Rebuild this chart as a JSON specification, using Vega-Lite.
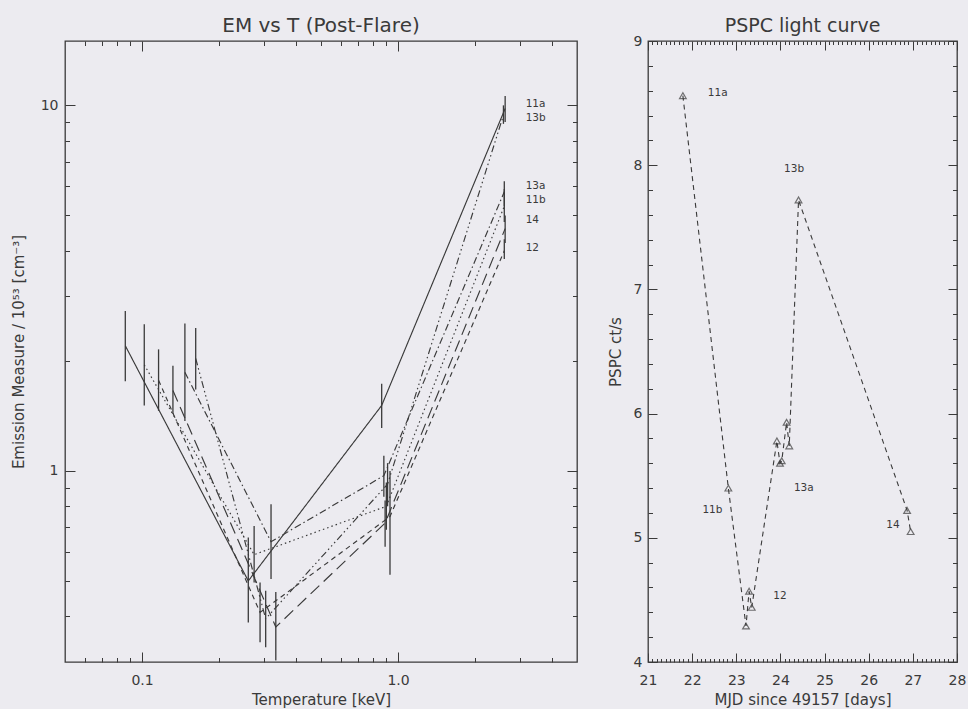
{
  "$schema": "https://vega.github.io/schema/vega-lite/v6.json",
  "background": "#ecebf0",
  "padding": {"left": 10, "top": 14, "right": 2, "bottom": 0},
  "config": {
    "view": {"stroke": "#3a3a3a", "strokeWidth": 1.3},
    "font": "DejaVu Sans",
    "axis": {"domain": false, "grid": false, "tickColor": "#3a3a3a", "labelColor": "#3a3a3a", "titleColor": "#3a3a3a", "labelFontSize": 14, "titleFontSize": 15, "titleFontWeight": "normal", "labelOverlap": false, "labelFlush": false, "labelBound": false, "tickWidth": 1},
    "title": {"fontSize": 19, "fontWeight": "normal", "color": "#3a3a3a", "offset": 5},
    "concat": {"spacing": 28}
  },
  "datasets": {
    "em": [
      {"s": "11a", "T": 0.086, "EM": 2.2, "lo": 1.76, "hi": 2.74},
      {"s": "11a", "T": 0.26, "EM": 0.5, "lo": 0.385, "hi": 0.657},
      {"s": "11a", "T": 0.863, "EM": 1.51, "lo": 1.31, "hi": 1.73},
      {"s": "11a", "T": 2.62, "EM": 9.8, "lo": 9.0, "hi": 10.6},
      {"s": "11b", "T": 0.102, "EM": 1.95, "lo": 1.51, "hi": 2.52},
      {"s": "11b", "T": 0.274, "EM": 0.59, "lo": 0.495, "hi": 0.707},
      {"s": "11b", "T": 0.9, "EM": 0.8, "lo": 0.69, "hi": 0.93},
      {"s": "11b", "T": 2.6, "EM": 5.3, "lo": 4.8, "hi": 5.9},
      {"s": "12", "T": 0.116, "EM": 1.77, "lo": 1.46, "hi": 2.15},
      {"s": "12", "T": 0.289, "EM": 0.41, "lo": 0.34, "hi": 0.495},
      {"s": "12", "T": 0.93, "EM": 0.75, "lo": 0.52, "hi": 1.0},
      {"s": "12", "T": 2.6, "EM": 4.0, "lo": 3.8, "hi": 4.3},
      {"s": "13a", "T": 0.147, "EM": 1.86, "lo": 1.37, "hi": 2.53},
      {"s": "13a", "T": 0.319, "EM": 0.64, "lo": 0.506, "hi": 0.811},
      {"s": "13a", "T": 0.88, "EM": 0.97, "lo": 0.85, "hi": 1.1},
      {"s": "13a", "T": 2.6, "EM": 5.8, "lo": 5.3, "hi": 6.2},
      {"s": "13b", "T": 0.162, "EM": 2.03, "lo": 1.67, "hi": 2.46},
      {"s": "13b", "T": 0.304, "EM": 0.394, "lo": 0.329, "hi": 0.47},
      {"s": "13b", "T": 0.91, "EM": 0.92, "lo": 0.8, "hi": 1.05},
      {"s": "13b", "T": 2.58, "EM": 9.4, "lo": 8.9, "hi": 10.0},
      {"s": "14", "T": 0.132, "EM": 1.66, "lo": 1.43, "hi": 1.94},
      {"s": "14", "T": 0.333, "EM": 0.374, "lo": 0.303, "hi": 0.466},
      {"s": "14", "T": 0.89, "EM": 0.72, "lo": 0.62, "hi": 0.83},
      {"s": "14", "T": 2.62, "EM": 4.6, "lo": 4.2, "hi": 5.0}
    ],
    "emlab": [
      {"label": "11a", "T": 3.15, "EM": 10.08},
      {"label": "13b", "T": 3.15, "EM": 9.23},
      {"label": "13a", "T": 3.15, "EM": 6.0},
      {"label": "11b", "T": 3.15, "EM": 5.52},
      {"label": "14", "T": 3.15, "EM": 4.87},
      {"label": "12", "T": 3.15, "EM": 4.08}
    ],
    "lc": [
      {"day": 21.79, "rate": 8.56},
      {"day": 22.82, "rate": 5.4},
      {"day": 23.22, "rate": 4.29},
      {"day": 23.29, "rate": 4.57},
      {"day": 23.35, "rate": 4.44},
      {"day": 23.92, "rate": 5.78},
      {"day": 23.99, "rate": 5.6},
      {"day": 24.03, "rate": 5.62},
      {"day": 24.14, "rate": 5.93},
      {"day": 24.2, "rate": 5.74},
      {"day": 24.41, "rate": 7.72},
      {"day": 26.87, "rate": 5.22},
      {"day": 26.95, "rate": 5.05}
    ],
    "lclab": [
      {"label": "11a", "day": 22.58, "rate": 8.58},
      {"label": "13b", "day": 24.31, "rate": 7.97},
      {"label": "13a", "day": 24.53, "rate": 5.4},
      {"label": "11b", "day": 22.46, "rate": 5.22},
      {"label": "12", "day": 23.99, "rate": 4.53},
      {"label": "14", "day": 26.55, "rate": 5.1}
    ]
  },
  "hconcat": [
    {
      "title": {"text": "EM vs T (Post-Flare)", "fontSize": 20},
      "width": 512,
      "height": 621,
      "resolve": {"axis": {"x": "independent", "y": "independent"}},
      "layer": [
        {
          "data": {"name": "em"},
          "mark": {"type": "rule", "color": "#3a3a3a", "strokeWidth": 1.3},
          "encoding": {
            "x": {"field": "T", "type": "quantitative", "scale": {"type": "log", "domain": [0.05, 5], "nice": false},
              "axis": {"orient": "bottom", "values": [0.06, 0.07, 0.08, 0.09, 0.1, 0.2, 0.3, 0.4, 0.5, 0.6, 0.7, 0.8, 0.9, 1, 2, 3, 4],
                "labelExpr": "datum.value == 0.1 ? '0.1' : datum.value == 1 ? '1.0' : ''",
                "tickSize": {"condition": {"test": "datum.value == 0.1 || datum.value == 1", "value": -10}, "value": -4.5},
                "labelPadding": 21, "title": "Temperature [keV]", "titlePadding": 0}},
            "y": {"field": "lo", "type": "quantitative", "scale": {"type": "log", "domain": [0.3, 15], "nice": false},
              "axis": {"orient": "left", "values": [0.4, 0.5, 0.6, 0.7, 0.8, 0.9, 1, 2, 3, 4, 5, 6, 7, 8, 9, 10],
                "labelExpr": "datum.value == 1 ? '1' : datum.value == 10 ? '10' : ''",
                "tickSize": {"condition": {"test": "datum.value == 1 || datum.value == 10", "value": -10}, "value": -4.5},
                "labelPadding": 17, "title": "Emission Measure / 10⁵³ [cm⁻³]", "titlePadding": 14}},
            "y2": {"field": "hi"}
          }
        },
        {
          "data": {"name": "em"},
          "mark": {"type": "line", "color": "#3a3a3a", "strokeWidth": 1.15},
          "encoding": {
            "x": {"field": "T", "type": "quantitative", "scale": {"type": "log", "domain": [0.05, 5], "nice": false},
              "axis": {"orient": "top", "values": [0.06, 0.07, 0.08, 0.09, 0.1, 0.2, 0.3, 0.4, 0.5, 0.6, 0.7, 0.8, 0.9, 1, 2, 3, 4],
                "labels": false, "title": null,
                "tickSize": {"condition": {"test": "datum.value == 0.1 || datum.value == 1", "value": -10}, "value": -4.5}}},
            "y": {"field": "EM", "type": "quantitative", "scale": {"type": "log", "domain": [0.3, 15], "nice": false},
              "axis": {"orient": "right", "values": [0.4, 0.5, 0.6, 0.7, 0.8, 0.9, 1, 2, 3, 4, 5, 6, 7, 8, 9, 10],
                "labels": false, "title": null,
                "tickSize": {"condition": {"test": "datum.value == 1 || datum.value == 10", "value": -10}, "value": -4.5}}},
            "strokeDash": {"field": "s", "type": "nominal", "legend": null,
              "scale": {"domain": ["11a", "11b", "12", "13a", "13b", "14"],
                "range": [[1, 0], [1.5, 3], [5, 4], [7, 3, 1.5, 3], [7, 3, 1.5, 3, 1.5, 3, 1.5, 3], [12, 6]]}}
          }
        },
        {
          "data": {"name": "emlab"},
          "mark": {"type": "text", "align": "left", "baseline": "middle", "fontSize": 10.5, "color": "#3a3a3a"},
          "encoding": {
            "x": {"field": "T", "type": "quantitative", "scale": {"type": "log", "domain": [0.05, 5], "nice": false}, "axis": null},
            "y": {"field": "EM", "type": "quantitative", "scale": {"type": "log", "domain": [0.3, 15], "nice": false}, "axis": null},
            "text": {"field": "label"}
          }
        }
      ]
    },
    {
      "title": {"text": "PSPC light curve", "dy": 7},
      "width": 309,
      "height": 621,
      "resolve": {"axis": {"x": "independent", "y": "independent"}},
      "layer": [
        {
          "data": {"name": "lc"},
          "mark": {"type": "line", "color": "#3a3a3a", "strokeWidth": 1.1, "strokeDash": [5, 4]},
          "encoding": {
            "x": {"field": "day", "type": "quantitative", "scale": {"domain": [21, 28], "nice": false, "zero": false},
              "axis": {"orient": "bottom", "values": [21, 21.1, 21.2, 21.3, 21.4, 21.5, 21.6, 21.7, 21.8, 21.9, 22, 22.1, 22.2, 22.3, 22.4, 22.5, 22.6, 22.7, 22.8, 22.9, 23, 23.1, 23.2, 23.3, 23.4, 23.5, 23.6, 23.7, 23.8, 23.9, 24, 24.1, 24.2, 24.3, 24.4, 24.5, 24.6, 24.7, 24.8, 24.9, 25, 25.1, 25.2, 25.3, 25.4, 25.5, 25.6, 25.7, 25.8, 25.9, 26, 26.1, 26.2, 26.3, 26.4, 26.5, 26.6, 26.7, 26.8, 26.9, 27, 27.1, 27.2, 27.3, 27.4, 27.5, 27.6, 27.7, 27.8, 27.9, 28],
                "labelExpr": "datum.value % 1 == 0 ? format(datum.value, 'd') : ''",
                "tickSize": {"condition": {"test": "datum.value % 1 == 0", "value": -9}, "value": -3.5},
                "labelPadding": 20, "title": "MJD since 49157 [days]", "titlePadding": 0}},
            "y": {"field": "rate", "type": "quantitative", "scale": {"domain": [4, 9], "nice": false, "zero": false},
              "axis": {"orient": "left", "values": [4, 4.2, 4.4, 4.6, 4.8, 5, 5.2, 5.4, 5.6, 5.8, 6, 6.2, 6.4, 6.6, 6.8, 7, 7.2, 7.4, 7.6, 7.8, 8, 8.2, 8.4, 8.6, 8.8, 9],
                "labelExpr": "datum.value % 1 == 0 ? format(datum.value, 'd') : ''",
                "tickSize": {"condition": {"test": "datum.value % 1 == 0", "value": -9}, "value": -4.5},
                "labelPadding": 15, "title": "PSPC ct/s", "titlePadding": 10}}
          }
        },
        {
          "data": {"name": "lc"},
          "mark": {"type": "point", "shape": "triangle-up", "filled": false, "color": "#3a3a3a", "size": 45, "strokeWidth": 1.2},
          "encoding": {
            "x": {"field": "day", "type": "quantitative", "scale": {"domain": [21, 28], "nice": false, "zero": false},
              "axis": {"orient": "top", "values": [21, 21.1, 21.2, 21.3, 21.4, 21.5, 21.6, 21.7, 21.8, 21.9, 22, 22.1, 22.2, 22.3, 22.4, 22.5, 22.6, 22.7, 22.8, 22.9, 23, 23.1, 23.2, 23.3, 23.4, 23.5, 23.6, 23.7, 23.8, 23.9, 24, 24.1, 24.2, 24.3, 24.4, 24.5, 24.6, 24.7, 24.8, 24.9, 25, 25.1, 25.2, 25.3, 25.4, 25.5, 25.6, 25.7, 25.8, 25.9, 26, 26.1, 26.2, 26.3, 26.4, 26.5, 26.6, 26.7, 26.8, 26.9, 27, 27.1, 27.2, 27.3, 27.4, 27.5, 27.6, 27.7, 27.8, 27.9, 28],
                "labels": false, "title": null,
                "tickSize": {"condition": {"test": "datum.value % 1 == 0", "value": -9}, "value": -3.5}}},
            "y": {"field": "rate", "type": "quantitative", "scale": {"domain": [4, 9], "nice": false, "zero": false},
              "axis": {"orient": "right", "values": [4, 4.2, 4.4, 4.6, 4.8, 5, 5.2, 5.4, 5.6, 5.8, 6, 6.2, 6.4, 6.6, 6.8, 7, 7.2, 7.4, 7.6, 7.8, 8, 8.2, 8.4, 8.6, 8.8, 9],
                "labels": false, "title": null,
                "tickSize": {"condition": {"test": "datum.value % 1 == 0", "value": -9}, "value": -4.5}}}
          }
        },
        {
          "data": {"name": "lclab"},
          "mark": {"type": "text", "align": "center", "baseline": "middle", "fontSize": 10.5, "color": "#3a3a3a"},
          "encoding": {
            "x": {"field": "day", "type": "quantitative", "scale": {"domain": [21, 28], "nice": false, "zero": false}, "axis": null},
            "y": {"field": "rate", "type": "quantitative", "scale": {"domain": [4, 9], "nice": false, "zero": false}, "axis": null},
            "text": {"field": "label"}
          }
        }
      ]
    }
  ]
}
